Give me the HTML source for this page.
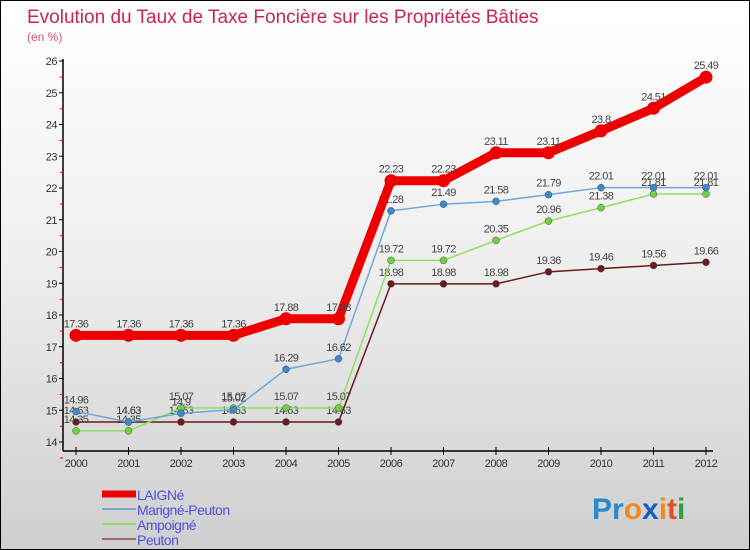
<!DOCTYPE html>
<html><head><meta charset="utf-8"><style>
body{margin:0}
#wrap{width:748px;height:548px;border:1px solid #000;background:linear-gradient(#fff 0%,#f0f0f0 45%,#cfcfcf 100%);position:relative;font-family:"Liberation Sans",sans-serif;overflow:hidden}
svg{position:absolute;left:0;top:0}
</style></head><body>
<div id="wrap">
<svg id="s" width="750" height="550">
<text x="26" y="22" font-size="19" fill="#c8245a">Evolution du Taux de Taxe Foncière sur les Propriétés Bâties</text>
<text x="26" y="40" font-size="12" fill="#d0507a">(en %)</text>
<text x="591" y="518" font-size="30" font-weight="bold"><tspan fill="#2a8ad0">Pr</tspan><tspan fill="#f08a20">o</tspan><tspan fill="#1560c0">x</tspan><tspan fill="#f08a20">i</tspan><tspan fill="#e05020">t</tspan><tspan fill="#30a040">i</tspan></text>
</svg>
</div>
<script>
const years=[2000,2001,2002,2003,2004,2005,2006,2007,2008,2009,2010,2011,2012];
const laigne=[17.36,17.36,17.36,17.36,17.88,17.88,22.23,22.23,23.11,23.11,23.8,24.51,25.49];
const marigne=[14.96,14.63,14.9,15.02,16.29,16.62,21.28,21.49,21.58,21.79,22.01,22.01,22.01];
const ampoigne=[14.35,14.35,15.07,15.07,15.07,15.07,19.72,19.72,20.35,20.96,21.38,21.81,21.81];
const peuton=[14.63,14.63,14.63,14.63,14.63,14.63,18.98,18.98,18.98,19.36,19.46,19.56,19.66];
const yTicks=[14,15,16,17,18,19,20,21,22,23,24,25,26];
const NS="http://www.w3.org/2000/svg";
const s=document.getElementById('s');
const X=i=>75+i*52.5;
const Y=v=>441-(v-14)*31.75;
function mk(t,a,p){const e=document.createElementNS(NS,t);for(const k in a)e.setAttribute(k,a[k]);(p||s).appendChild(e);return e;}
// axes
let ya=mk('line',{x1:62,y1:58,x2:62,y2:450,stroke:'#000','stroke-width':1.5});


let xa=mk('line',{x1:62,y1:450,x2:712,y2:450,stroke:'#000','stroke-width':1.5});


yTicks.forEach(v=>{
 mk('line',{x1:58,y1:Y(v),x2:62,y2:Y(v),stroke:'#000'});
 mk('line',{x1:59,y1:Y(v)+16,x2:62,y2:Y(v)+16,stroke:'#e00'});
 const t=mk('text',{x:56,y:Y(v)+4,'font-size':11,fill:'#333','text-anchor':'end','letter-spacing':'-0.5'});t.textContent=v;
 
 
});
years.forEach((y,i)=>{
 mk('line',{x1:X(i),y1:446,x2:X(i),y2:454,stroke:'#000'});
 const t=mk('text',{x:X(i),y:466,'font-size':11,fill:'#333','text-anchor':'middle','letter-spacing':'-0.5'});t.textContent=y;
 
 
});
const series=[
 {d:peuton,c:'#6a1a1a',w:1.5,r:3.5,name:'peuton'},
 {d:ampoigne,c:'#90e060',w:1.5,r:3.5,name:'ampoigne',fill:'#70d040'},
 {d:marigne,c:'#70a8d8',w:1.5,r:3.5,name:'marigne-peuton',fill:'#3a8ad0'},
 {d:laigne,c:'#ee0000',w:9,r:6.5,name:'laigne'}
];
series.forEach(se=>{
 const l=mk('polyline',{points:se.d.map((v,i)=>X(i)+','+Y(v)).join(' '),fill:'none',stroke:se.c,'stroke-width':se.w,'stroke-linejoin':'round'});
 
 
 se.d.forEach((v,i)=>{
  const c=mk('circle',{cx:X(i),cy:Y(v),r:se.r,fill:se.fill||se.c,stroke:se.w>2?'none':'#555','stroke-width':0.5});
  
  
  const t=mk('text',{x:X(i),y:Y(v)-8,'font-size':11,fill:'#444','text-anchor':'middle','letter-spacing':'-0.6'});t.textContent=v;
  
  
 });
});
const leg=[['LAIGNé','#ee0000',7],['Marigné-Peuton','#70a8d8',2],['Ampoigné','#90e060',2],['Peuton','#9a6a6a',2]];
leg.forEach((L,i)=>{
 const y=493+i*15;
 const g=mk('g',{});
 
 
 mk('line',{x1:101,y1:y,x2:135,y2:y,stroke:L[1],'stroke-width':L[2]},g);
 const t=mk('text',{x:136,y:y+6,'font-size':14,fill:'#5050e0','letter-spacing':'-0.5'},g);t.textContent=L[0];
});
</script>
</body></html>
